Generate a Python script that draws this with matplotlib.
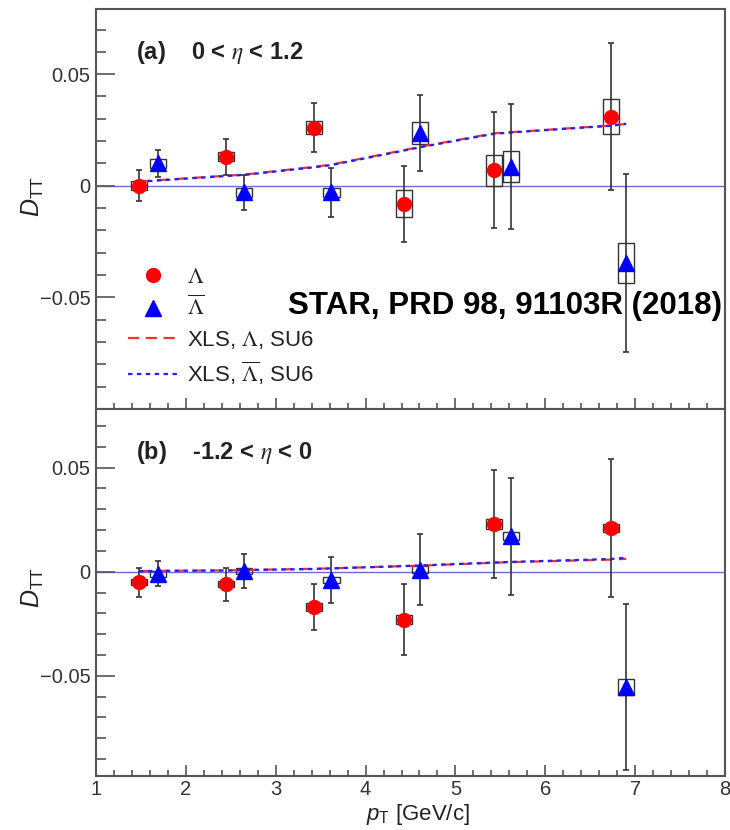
import numpy as np
import matplotlib
matplotlib.use("Agg")
import matplotlib.pyplot as plt
from matplotlib.patches import Rectangle
from matplotlib.lines import Line2D
from matplotlib.ticker import MultipleLocator

plt.rcParams['font.family'] = ['Liberation Sans', 'DejaVu Sans']
plt.rcParams['mathtext.fontset'] = 'custom'
plt.rcParams['mathtext.rm'] = 'Liberation Sans'
plt.rcParams['mathtext.it'] = 'Liberation Sans:italic'

# pT bin centres
lam_x = [1.48, 2.45, 3.43, 4.43, 5.43, 6.73]
alam_x = [1.69, 2.65, 3.62, 4.61, 5.62, 6.90]

# (a) 0 < eta < 1.2
lam_a = [0.000, 0.013, 0.026, -0.008, 0.007, 0.031]
lam_a_stat = [0.007, 0.008, 0.011, 0.017, 0.026, 0.033]
lam_a_sys = [0.002, 0.002, 0.003, 0.006, 0.007, 0.008]
alam_a = [0.010, -0.003, -0.003, 0.0235, 0.0085, -0.0345]
alam_a_stat = [0.006, 0.008, 0.011, 0.017, 0.028, 0.040]
alam_a_sys = [0.002, 0.002, 0.002, 0.005, 0.007, 0.009]

# (b) -1.2 < eta < 0
lam_b = [-0.005, -0.006, -0.017, -0.023, 0.023, 0.021]
lam_b_stat = [0.007, 0.008, 0.011, 0.017, 0.026, 0.033]
lam_b_sys = [0.0015, 0.0015, 0.002, 0.002, 0.0025, 0.002]
alam_b = [-0.001, 0.0003, -0.004, 0.001, 0.017, -0.0555]
alam_b_stat = [0.006, 0.008, 0.011, 0.017, 0.028, 0.040]
alam_b_sys = [0.0015, 0.0015, 0.0015, 0.0015, 0.002, 0.004]

# XLS model (SU6)
th_x = [1.48, 1.69, 2.45, 2.65, 3.43, 3.62, 4.43, 4.61, 5.43, 5.62, 6.73, 6.90]
th_lam_a = [0.002, 0.0025, 0.0045, 0.005, 0.0085, 0.0095, 0.016, 0.0175, 0.0235, 0.024, 0.027, 0.0277]
th_alam_a = [0.0018, 0.0024, 0.0044, 0.0049, 0.0083, 0.0093, 0.0158, 0.0173, 0.0233, 0.0239, 0.0269, 0.0278]
th_lam_b = [0.0003, 0.0004, 0.0006, 0.0008, 0.0014, 0.0016, 0.0027, 0.0029, 0.0043, 0.0046, 0.0058, 0.0062]
th_alam_b = [0.0002, 0.0004, 0.0006, 0.0008, 0.0013, 0.0016, 0.0027, 0.0030, 0.0044, 0.0047, 0.0061, 0.0067]

frame_col = '#555555'
box_hw = 0.09

fig = plt.figure(figsize=(7.3, 8.3), dpi=100)
ax1 = fig.add_axes([96/730, 1 - 409/830, 629/730, 400/830])
ax2 = fig.add_axes([96/730, 1 - 776/830, 629/730, 367/830])


def draw_panel(ax, lam_y, lam_stat, lam_sys, alam_y, alam_stat, alam_sys, th1, th2, ylim):
    ax.axhline(0, color='#6a6ae0', lw=1.0, zorder=1)
    # systematic boxes
    for x, y, s in zip(lam_x, lam_y, lam_sys):
        ax.add_patch(Rectangle((x - box_hw, y - s), 2 * box_hw, 2 * s, fill=False,
                               ec='#333333', lw=1.0, zorder=2))
    for x, y, s in zip(alam_x, alam_y, alam_sys):
        ax.add_patch(Rectangle((x - box_hw, y - s), 2 * box_hw, 2 * s, fill=False,
                               ec='#333333', lw=1.0, zorder=2))
    ax.plot(th_x, th1, color='#ff3030', ls=(0, (5, 3)), lw=1.6, zorder=3)
    ax.plot(th_x, th2, color='#2020ff', ls=(0, (2, 2)), lw=1.6, zorder=3)
    ax.errorbar(lam_x, lam_y, yerr=lam_stat, fmt='o', color='red', ms=10,
                ecolor='#333333', elinewidth=1.2, capsize=2.5, capthick=1.2, zorder=4)
    ax.errorbar(alam_x, alam_y, yerr=alam_stat, fmt='^', color='blue', ms=11,
                ecolor='#333333', elinewidth=1.2, capsize=2.5, capthick=1.2, zorder=4)
    ax.set_xlim(1, 8)
    ax.set_ylim(*ylim)
    ax.xaxis.set_major_locator(MultipleLocator(1))
    ax.xaxis.set_minor_locator(MultipleLocator(0.2))
    ax.yaxis.set_major_locator(MultipleLocator(0.05))
    ax.yaxis.set_minor_locator(MultipleLocator(0.01))
    ax.set_yticks([-0.05, 0, 0.05])
    ax.set_yticklabels(['\u22120.05', '0', '0.05'])
    ax.tick_params(axis='y', which='major', direction='in', length=13.5, width=1.2,
                   color=frame_col, labelsize=14.5, pad=4, right=False, labelcolor='#333333')
    ax.tick_params(axis='y', which='minor', direction='in', length=7, width=1.2,
                   color=frame_col, right=False)
    ax.tick_params(axis='x', which='major', direction='in', length=8, width=1.2,
                   color=frame_col, labelsize=14.5, top=False, labelcolor='#333333')
    ax.tick_params(axis='x', which='minor', direction='in', length=4, width=1.2,
                   color=frame_col, top=False)
    for sp in ax.spines.values():
        sp.set_color(frame_col)
        sp.set_linewidth(1.5)


draw_panel(ax1, lam_a, lam_a_stat, lam_a_sys, alam_a, alam_a_stat, alam_a_sys,
           th_lam_a, th_alam_a, (-0.1, 0.0792))
draw_panel(ax2, lam_b, lam_b_stat, lam_b_sys, alam_b, alam_b_stat, alam_b_sys,
           th_lam_b, th_alam_b, (-0.0982, 0.0782))
ax1.tick_params(axis='x', labelbottom=False)
ax2.tick_params(axis='x', pad=3)

# panel labels
fig.text(136/730, 1 - 52/830, r'(a)    0 < $\eta$ < 1.2', fontsize=17, fontweight='bold',
         va='center', math_fontfamily='stix', color='#222222')
fig.text(136/730, 1 - 452/830, r'(b)    -1.2 < $\eta$ < 0', fontsize=17, fontweight='bold',
         va='center', math_fontfamily='stix', color='#222222')

# axis labels
for yc in (197, 588):
    fig.text(33/730, 1 - yc/830, r'$D_{\mathrm{TT}}$', fontsize=18, rotation=90,
             ha='center', va='center', color='#222222')
fig.text(470/730, 1 - 814/830, r'$p_{\mathrm{T}}$ [GeV/c]', fontsize=16,
         ha='right', va='center', color='#222222')

# legend
handles = [
    Line2D([], [], ls='none', marker='o', color='red', ms=10),
    Line2D([], [], ls='none', marker='^', color='blue', ms=11),
    Line2D([], [], color='#ff3030', ls=(0, (5, 3)), lw=1.6),
    Line2D([], [], color='#2020ff', ls=(0, (2, 2)), lw=1.6),
]
labels = [r'$\Lambda$', r'$\overline{\Lambda}$',
          r'XLS, $\Lambda$, SU6', r'XLS, $\overline{\Lambda}$, SU6']
leg = ax1.legend(handles, labels, loc='upper left', bbox_to_anchor=(0.051, 0.356),
                 frameon=False, fontsize=16, handlelength=2.2, handletextpad=0.45,
                 labelspacing=0.38, borderpad=0, borderaxespad=0)
for t in leg.get_texts():
    t.set_math_fontfamily('stix')
    t.set_color('#222222')

fig.text(288/730, 1 - 306/830, 'STAR, PRD 98, 91103R (2018)', fontsize=22.5,
         fontweight='bold', va='center', ha='left', zorder=10)

fig.savefig('out.png', dpi=100)
